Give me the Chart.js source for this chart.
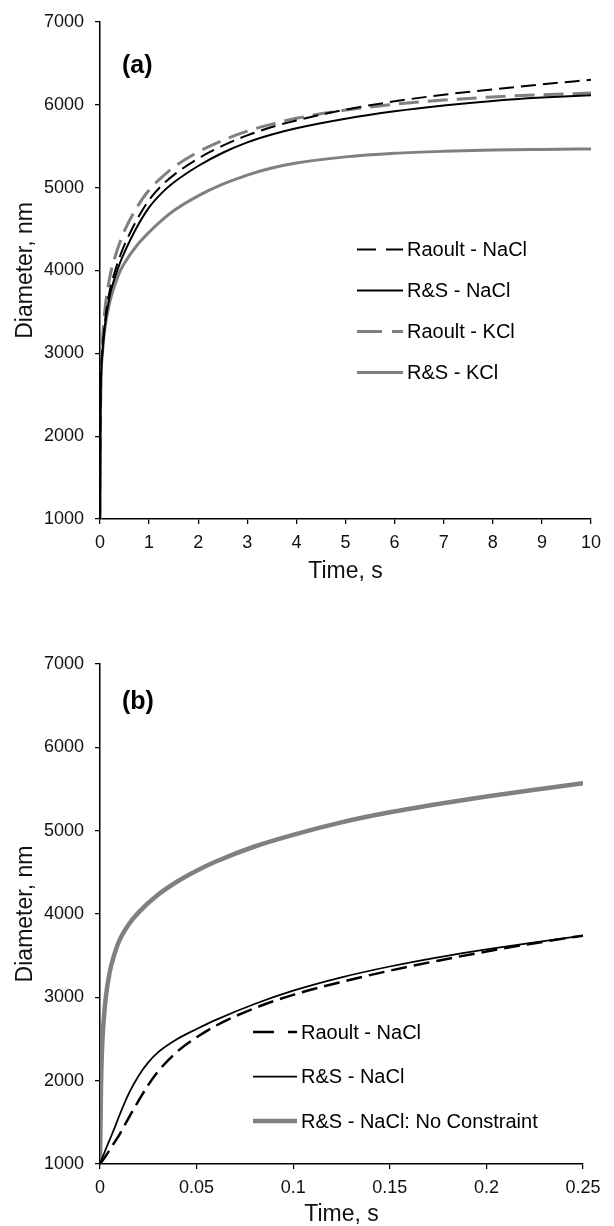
<!DOCTYPE html>
<html><head><meta charset="utf-8">
<script src="https://cdn.jsdelivr.net/npm/chart.js@4.4.0/dist/chart.umd.min.js"></script>
<style>
html,body{margin:0;padding:0;background:#fff;}
#wrap{position:relative;width:614px;height:1226px;background:#fff;}
canvas{position:absolute;left:0;}
</style></head><body>
<div id="wrap">
<canvas id="ca" width="614" height="613" style="top:0px"></canvas>
<canvas id="cb" width="614" height="613" style="top:613px"></canvas>
</div>
<script>
// ---------- Panel (a) data ----------
const timeA = [0, 0.01, 0.05, 0.1, 0.2, 0.3, 0.4, 0.5, 0.75, 1, 1.25, 1.5, 2, 2.5, 3, 3.5, 4, 5, 6, 7, 8, 9, 10];
const raoultNaClA = [1000, 2300, 3050, 3380, 3760, 3980, 4160, 4310, 4610, 4850, 5020, 5150, 5350, 5505, 5630, 5730, 5810, 5940, 6040, 6120, 6185, 6245, 6300];
const rsNaClA     = [1000, 2300, 3000, 3330, 3700, 3910, 4080, 4220, 4520, 4760, 4930, 5060, 5260, 5420, 5545, 5640, 5715, 5830, 5920, 5990, 6045, 6085, 6115];
const raoultKClA  = [1000, 2400, 3150, 3520, 3920, 4150, 4330, 4480, 4760, 4970, 5120, 5245, 5430, 5570, 5680, 5765, 5835, 5935, 6005, 6055, 6093, 6120, 6140];
const rsKClA      = [1000, 2300, 3000, 3300, 3620, 3820, 3980, 4090, 4300, 4460, 4600, 4720, 4900, 5040, 5150, 5235, 5295, 5370, 5413, 5437, 5452, 5460, 5466];
const seriesNamesA = ['Raoult - NaCl', 'R&S - NaCl', 'Raoult - KCl', 'R&S - KCl'];
const xTicksA = [0, 1, 2, 3, 4, 5, 6, 7, 8, 9, 10];
const xTickLabelsA = ['0', '1', '2', '3', '4', '5', '6', '7', '8', '9', '10'];

// ---------- Panel (b) data ----------
const timeB = [0, 0.0025, 0.005, 0.0075, 0.01, 0.015, 0.02, 0.025, 0.03, 0.04, 0.05, 0.06, 0.08, 0.1, 0.125, 0.15, 0.175, 0.2, 0.225, 0.25];
const raoultNaClB = [1000, 1080, 1170, 1260, 1350, 1560, 1760, 1950, 2110, 2350, 2520, 2660, 2870, 3030, 3185, 3320, 3440, 3550, 3650, 3740];
const rsNaClB     = [1000, 1150, 1290, 1430, 1580, 1850, 2060, 2220, 2340, 2500, 2620, 2730, 2920, 3080, 3240, 3370, 3480, 3575, 3660, 3740];
const timeBnc = [0, 0.0005, 0.001, 0.002, 0.003, 0.005, 0.0075, 0.01, 0.015, 0.02, 0.03, 0.04, 0.05, 0.06, 0.08, 0.1, 0.125, 0.15, 0.175, 0.2, 0.225, 0.25];
const rsNaClNoConstraintB = [1000, 1900, 2350, 2750, 3000, 3300, 3520, 3680, 3880, 4020, 4230, 4390, 4520, 4630, 4810, 4950, 5100, 5220, 5320, 5410, 5490, 5570];
const seriesNamesB = ['Raoult - NaCl', 'R&S - NaCl', 'R&S - NaCl: No Constraint'];
const xTicksB = [0, 0.05, 0.1, 0.15, 0.2, 0.25];
const xTickLabelsB = ['0', '0.05', '0.1', '0.15', '0.2', '0.25'];

// ---------- shared ----------
const yTicks = [1000, 2000, 3000, 4000, 5000, 6000, 7000];
const yTickLabels = ['1000', '2000', '3000', '4000', '5000', '6000', '7000'];
const xTitle = 'Time, s';
const yTitle = 'Diameter, nm';

const FONT = '"Liberation Sans", Arial, Helvetica, sans-serif';
const GREY = '#808080';
const BLACK = '#000000';

function pts(xs, ys) { return xs.map((x, i) => ({x: x, y: ys[i]})); }

function overlayPlugin(cfg) {
  return {
    id: 'overlay',
    afterDatasetsDraw(chart) {
      const ctx = chart.ctx;
      ctx.save();
      ctx.fillStyle = '#000';
      ctx.textAlign = 'left';
      ctx.textBaseline = 'middle';
      ctx.font = 'bold 25px ' + FONT;
      ctx.fillText(cfg.panel, cfg.panelX, cfg.panelY);
      ctx.font = '20px ' + FONT;
      cfg.order.forEach((idx, i) => {
        const ds = chart.data.datasets[idx];
        const y = cfg.y0 + i * cfg.gap;
        ctx.beginPath();
        const sd = cfg.sampleDash[i];
        ctx.setLineDash(sd ? sd.concat([200]) : []);
        ctx.lineWidth = ds.borderWidth;
        ctx.strokeStyle = ds.borderColor;
        ctx.lineCap = 'butt';
        ctx.moveTo(cfg.x1, y);
        ctx.lineTo(cfg.x2, y);
        ctx.stroke();
        ctx.setLineDash([]);
        ctx.fillText(ds.label, cfg.tx, y + 1);
      });
      ctx.restore();
    }
  };
}

function makeScales(xTicks, xLabels, xMax, xCfg) {
  const gridCommon = { display: true, drawOnChartArea: false, drawTicks: true, tickLength: 5, color: '#000', lineWidth: 1.25 };
  return {
    x: {
      type: 'linear', min: 0, max: xMax,
      afterBuildTicks: (s) => { s.ticks = xTicks.map(v => ({value: v})); },
      afterFit: (s) => { s.height = xCfg.height; },
      ticks: { padding: 8, color: '#111', font: {family: FONT, size: 18}, maxRotation: 0, autoSkip: false,
               callback: (v, i) => xLabels[i] },
      grid: gridCommon,
      border: { display: true, color: '#000', width: 1.5 },
      title: { display: true, text: xTitle, color: '#111', font: {family: FONT, size: 23}, padding: {top: 0, bottom: xCfg.titlePad} }
    },
    y: {
      type: 'linear', min: 1000, max: 7000,
      afterBuildTicks: (s) => { s.ticks = yTicks.map(v => ({value: v})); },
      afterFit: (s) => { s.width = 100; },
      ticks: { padding: 11, color: '#111', font: {family: FONT, size: 18}, autoSkip: false,
               callback: (v, i) => yTickLabels[i] },
      grid: gridCommon,
      border: { display: true, color: '#000', width: 1.5 },
      title: { display: true, text: yTitle, color: '#111', font: {family: FONT, size: 23}, padding: {top: 12, bottom: 0} }
    }
  };
}

const commonOpts = {
  responsive: false, animation: false, devicePixelRatio: 1,
  plugins: { legend: { display: false }, tooltip: { enabled: false } },
  elements: { point: { radius: 0 }, line: { cubicInterpolationMode: 'monotone', fill: false } }
};

// ---------- Chart (a) ----------
new Chart(document.getElementById('ca'), {
  type: 'line',
  data: {
    datasets: [
      { label: seriesNamesA[0], data: pts(timeA, raoultNaClA), borderColor: BLACK, borderWidth: 2, borderDash: [15, 7] },
      { label: seriesNamesA[1], data: pts(timeA, rsNaClA), borderColor: BLACK, borderWidth: 2 },
      { label: seriesNamesA[2], data: pts(timeA, raoultKClA), borderColor: GREY, borderWidth: 3, borderDash: [20, 9] },
      { label: seriesNamesA[3], data: pts(timeA, rsKClA), borderColor: GREY, borderWidth: 3 }
    ]
  },
  options: Object.assign({}, commonOpts, {
    layout: { padding: { top: 21, right: 23, bottom: 28, left: 0 } },
    scales: makeScales(xTicksA, xTickLabelsA, 10, { height: 66, titlePad: 0 })
  }),
  plugins: [overlayPlugin({ panel: '(a)', panelX: 122, panelY: 66, order: [0, 1, 2, 3], y0: 249.5, gap: 41,
    x1: 357, x2: 403, tx: 407, sampleDash: [[19, 10, 17], null, [25, 10, 11], null] })]
});

// ---------- Chart (b) ----------
new Chart(document.getElementById('cb'), {
  type: 'line',
  data: {
    datasets: [
      { label: seriesNamesB[0], data: pts(timeB, raoultNaClB), borderColor: BLACK, borderWidth: 2.5, borderDash: [16, 7] },
      { label: seriesNamesB[1], data: pts(timeB, rsNaClB), borderColor: BLACK, borderWidth: 1.75 },
      { label: seriesNamesB[2], data: pts(timeBnc, rsNaClNoConstraintB), borderColor: GREY, borderWidth: 4.5 }
    ]
  },
  options: Object.assign({}, commonOpts, {
    layout: { padding: { top: 51, right: 31, bottom: 0, left: 0 } },
    scales: makeScales(xTicksB, xTickLabelsB, 0.25, { height: 62, titlePad: -2 })
  }),
  plugins: [overlayPlugin({ panel: '(b)', panelX: 122, panelY: 89, order: [0, 1, 2], y0: 419, gap: 44.5,
    x1: 253, x2: 297, tx: 301, sampleDash: [[21, 14, 9], null, null] })]
});
</script>
</body></html>
